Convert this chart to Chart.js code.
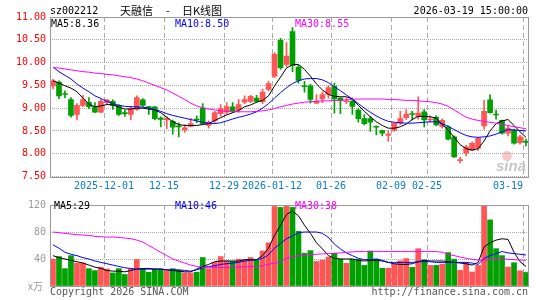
<!DOCTYPE html>
<html>
<head>
<meta charset="utf-8">
<script src="https://cdn.jsdelivr.net/npm/chart.js@4/dist/chart.umd.min.js"></script>
<style>
html, body { margin: 0; padding: 0; background: #fff; width: 545px; height: 300px; overflow: hidden; }
#kline { position: absolute; left: 0; top: 0; }
#volume { position: absolute; left: 0; top: 195px; }
</style>
</head>
<body>
<canvas id="kline" width="545" height="196"></canvas>
<canvas id="volume" width="545" height="105"></canvas>
<script>
// ── Data ──────────────────────────────────────────────────────────────
const dates = [
    '2025-11-18','2025-11-19','2025-11-20','2025-11-21','2025-11-24','2025-11-25','2025-11-26','2025-11-27','2025-11-28',
    '2025-12-01','2025-12-02','2025-12-03','2025-12-04','2025-12-05','2025-12-08','2025-12-09','2025-12-10','2025-12-11','2025-12-12',
    '2025-12-15','2025-12-16','2025-12-17','2025-12-18','2025-12-19','2025-12-22','2025-12-23','2025-12-24','2025-12-25','2025-12-26',
    '2025-12-29','2025-12-30','2025-12-31',
    '2026-01-05','2026-01-06','2026-01-07','2026-01-08','2026-01-09','2026-01-12','2026-01-13','2026-01-14','2026-01-15','2026-01-16',
    '2026-01-19','2026-01-20','2026-01-21','2026-01-22','2026-01-23','2026-01-26','2026-01-27','2026-01-28','2026-01-29','2026-01-30',
    '2026-02-02','2026-02-03','2026-02-04','2026-02-05','2026-02-06','2026-02-09','2026-02-10','2026-02-11','2026-02-12','2026-02-13',
    '2026-02-24','2026-02-25','2026-02-26','2026-02-27',
    '2026-03-02','2026-03-03','2026-03-04','2026-03-05','2026-03-06','2026-03-09','2026-03-10','2026-03-11','2026-03-12','2026-03-13',
    '2026-03-16','2026-03-17','2026-03-18','2026-03-19'
];

const open = [
    9.49, 9.57, 9.32, 9.19, 8.86, 9.06, 9.13, 9.03, 8.91, 9.12,
    9.15, 9.06, 8.90, 8.86, 8.97, 9.18, 9.03, 9.03, 8.78, 8.74,
    8.71, 8.61, 8.52, 8.60, 8.76, 9.00, 8.62, 8.72, 8.88, 8.91,
    9.03, 8.96, 9.13, 9.15, 9.22, 9.14, 9.41, 9.70, 10.49, 9.96,
    10.68, 9.90, 9.49, 9.49, 9.11, 9.20, 9.30, 9.48, 9.22, 9.14,
    9.15, 8.96, 8.77, 8.77, 8.59, 8.51, 8.40, 8.51, 8.67, 8.79,
    8.87, 8.82, 8.92, 8.74, 8.80, 8.60, 8.59, 8.37, 7.85, 8.02,
    8.08, 8.12, 8.61, 9.18, 8.86, 8.73, 8.45, 8.52, 8.24, 8.26
];
const high = [
    9.63, 9.60, 9.38, 9.23, 9.10, 9.28, 9.23, 9.12, 9.19, 9.19,
    9.18, 9.08, 8.95, 9.04, 9.27, 9.21, 9.04, 9.04, 8.81, 8.81,
    8.74, 8.68, 8.64, 8.77, 8.83, 9.10, 8.72, 8.93, 9.08, 9.12,
    9.12, 9.19, 9.27, 9.28, 9.28, 9.42, 9.59, 10.22, 10.53, 10.44,
    10.77, 9.94, 9.59, 9.52, 9.30, 9.36, 9.49, 9.55, 9.23, 9.22,
    9.22, 8.99, 8.86, 8.82, 8.61, 8.52, 8.50, 8.67, 8.93, 8.97,
    8.93, 9.25, 8.97, 8.83, 8.83, 8.76, 8.61, 8.39, 7.92, 8.19,
    8.26, 8.36, 9.17, 9.29, 8.96, 8.74, 8.60, 8.54, 8.41, 8.32
];
const low = [
    9.42, 9.21, 9.23, 8.80, 8.74, 9.03, 8.99, 8.90, 8.90, 9.10,
    8.97, 8.84, 8.82, 8.74, 8.95, 9.03, 8.86, 8.74, 8.59, 8.55,
    8.43, 8.37, 8.47, 8.59, 8.68, 8.64, 8.56, 8.68, 8.82, 8.86,
    8.90, 8.91, 9.10, 9.12, 9.13, 9.10, 9.38, 9.67, 9.85, 9.91,
    9.80, 9.55, 9.35, 9.11, 9.10, 9.12, 9.22, 8.89, 8.88, 9.10,
    8.86, 8.69, 8.63, 8.49, 8.41, 8.39, 8.27, 8.49, 8.64, 8.75,
    8.74, 8.76, 8.59, 8.69, 8.61, 8.56, 8.30, 7.92, 7.80, 7.95,
    8.07, 8.07, 8.54, 8.89, 8.76, 8.43, 8.39, 8.21, 8.21, 8.17
];
const close = [
    9.60, 9.27, 9.30, 8.84, 9.06, 9.19, 9.03, 8.91, 9.15, 9.18,
    9.06, 8.86, 8.88, 8.99, 9.23, 9.06, 9.01, 8.77, 8.75, 8.77,
    8.58, 8.59, 8.57, 8.66, 8.74, 8.66, 8.69, 8.90, 8.99, 9.03,
    8.94, 9.08, 9.19, 9.26, 9.15, 9.35, 9.54, 10.18, 9.89, 10.14,
    9.94, 9.61, 9.47, 9.19, 9.15, 9.30, 9.45, 9.20, 9.17, 9.16,
    9.04, 8.77, 8.66, 8.69, 8.58, 8.45, 8.43, 8.67, 8.77, 8.87,
    8.86, 8.89, 8.74, 8.76, 8.63, 8.73, 8.32, 7.93, 7.87, 8.15,
    8.23, 8.34, 8.93, 8.90, 8.85, 8.45, 8.56, 8.23, 8.37, 8.25
];

const ma5 = [
    9.60, 9.55, 9.49, 9.44, 9.36, 9.22, 9.09, 9.03, 9.05, 9.08,
    9.07, 9.02, 8.98, 8.98, 9.00, 9.00, 8.98, 8.96, 8.90, 8.80,
    8.70, 8.64, 8.62, 8.62, 8.62, 8.64, 8.66, 8.73, 8.79, 8.85,
    8.90, 8.95, 9.03, 9.07, 9.13, 9.17, 9.27, 9.49, 9.68, 9.88,
    9.95, 9.96, 9.85, 9.70, 9.53, 9.40, 9.30, 9.26, 9.25, 9.25,
    9.20, 9.06, 8.93, 8.81, 8.70, 8.62, 8.56, 8.56, 8.59, 8.65,
    8.75, 8.82, 8.82, 8.81, 8.78, 8.64, 8.52, 8.36, 8.20, 8.11,
    8.08, 8.11, 8.28, 8.50, 8.66, 8.72, 8.75, 8.62, 8.48, 8.36
];
const ma10 = [
    9.90, 9.80, 9.72, 9.64, 9.53, 9.44, 9.36, 9.27, 9.21, 9.15,
    9.10, 9.06, 9.04, 9.03, 9.03, 9.02, 9.00, 8.97, 8.93, 8.88,
    8.84, 8.81, 8.78, 8.75, 8.72, 8.69, 8.67, 8.66, 8.68, 8.72,
    8.76, 8.80, 8.83, 8.87, 8.92, 9.00, 9.10, 9.22, 9.34, 9.45,
    9.54, 9.60, 9.64, 9.65, 9.65, 9.62, 9.56, 9.47, 9.38, 9.29,
    9.20, 9.10, 9.00, 8.91, 8.83, 8.76, 8.71, 8.69, 8.68, 8.67,
    8.67, 8.68, 8.69, 8.70, 8.70, 8.66, 8.60, 8.53, 8.46, 8.40,
    8.37, 8.36, 8.37, 8.39, 8.43, 8.48, 8.53, 8.52, 8.51, 8.50
];
const ma30 = [
    9.89, 9.88, 9.86, 9.84, 9.82, 9.80, 9.79, 9.77, 9.76, 9.74,
    9.73, 9.71, 9.69, 9.67, 9.64, 9.60, 9.55, 9.50, 9.45, 9.40,
    9.33, 9.26, 9.19, 9.11, 9.05, 9.01, 8.98, 8.96, 8.94, 8.93,
    8.92, 8.92, 8.92, 8.92, 8.93, 8.94, 8.96, 8.99, 9.03, 9.06,
    9.09, 9.11, 9.13, 9.14, 9.15, 9.16, 9.16, 9.17, 9.17, 9.18,
    9.19, 9.20, 9.20, 9.20, 9.20, 9.20, 9.19, 9.19, 9.18, 9.17,
    9.17, 9.16, 9.15, 9.14, 9.12, 9.09, 9.04, 8.96, 8.88, 8.80,
    8.76, 8.73, 8.71, 8.69, 8.67, 8.64, 8.62, 8.59, 8.57, 8.55
];

// volume, 万手
const vol = [
    39.8, 43.6, 25.7, 45.0, 34.0, 34.0, 25.7, 22.8, 27.6, 25.2,
    19.4, 25.7, 17.0, 25.2, 39.3, 25.7, 20.4, 25.2, 25.2, 22.8,
    25.7, 23.3, 19.4, 19.4, 20.4, 42.2, 25.7, 34.9, 43.6, 37.3,
    36.4, 39.8, 38.8, 42.2, 38.8, 51.9, 64.0, 117.8, 116.4, 119.8,
    116.4, 81.0, 48.5, 52.4, 36.4, 38.3, 42.7, 48.5, 39.8, 33.5,
    39.8, 39.8, 30.5, 51.9, 39.8, 26.2, 26.2, 32.5, 37.3, 40.7,
    27.6, 55.3, 38.8, 30.5, 30.5, 32.5, 49.5, 39.8, 23.3, 33.9,
    20.8, 30.5, 125.0, 98.0, 55.3, 45.0, 28.0, 34.5, 22.5, 20.0
];
const volMa5 = [
    45, 42, 40, 38, 36, 34, 31, 28, 26, 23,
    22, 22, 21, 23, 25, 26, 26, 25, 25, 24,
    23, 22, 21, 21, 25, 29, 32, 36, 37, 37,
    37, 37, 39, 39, 39, 45, 56, 75, 90, 106,
    111, 104, 90, 78, 64, 55, 45, 41, 40, 40,
    40, 38, 37, 38, 38, 37, 35, 33, 32, 32,
    33, 36, 38, 37, 37, 37, 36, 35, 34, 33,
    31, 35, 58, 64, 68, 70, 69, 50, 36, 29
];
const volMa10 = [
    61, 56, 50, 47, 45, 42, 40, 37, 35, 33,
    31, 29, 27, 26, 25, 25, 25, 25, 25, 24,
    24, 24, 23, 22, 24, 27, 29, 30, 32, 33,
    34, 35, 37, 38, 39, 41, 46, 56, 63, 70,
    74, 79, 80, 80, 80, 78, 72, 62, 55, 49,
    45, 41, 39, 39, 40, 38, 35, 35, 35, 35,
    35, 36, 36, 36, 35, 35, 35, 35, 35, 35,
    34, 32, 41, 45, 48, 51, 49, 48, 47, 46
];
const volMa30 = [
    80, 79, 78, 77, 76, 75.5, 75, 73.5, 73, 72.5,
    72.5, 72, 71, 70, 68, 65, 60, 55, 50, 45,
    40, 37, 34, 31, 29, 28, 27.6, 27.6, 27.6, 27.6,
    27.6, 28, 28.5, 28.8, 29, 30, 32, 34, 36, 41,
    43, 45, 46, 46.5, 47, 47.5, 48, 48.5, 49, 50,
    50.5, 51, 51, 51, 51, 51, 51, 51, 51, 51,
    51, 51, 51, 51, 51, 50, 47, 45, 43, 41,
    39.5, 38.5, 38.5, 39, 40, 40.5, 39.5, 39, 38.5, 38
];

const tickDates = ['2025-12-01','2025-12-15','2025-12-29','2026-01-12','2026-01-26','2026-02-09','2026-02-25','2026-03-19'];
const tickTexts = ['2025-12-01','12-15','12-29','2026-01-12','01-26','02-09','02-25','03-19'];

// ── Style ─────────────────────────────────────────────────────────────
const UP   = '#ff5555';
const DOWN = '#00a000';
const MONO = '"DejaVu Sans Mono", "Liberation Mono", monospace';
const isUp = i => close[i] >= open[i];
const last = a => a[a.length - 1];

// ── Plot frame: dashed date lines + border ───────────────────────────
const frame = {
    id: 'frame',
    beforeDatasetsDraw(chart) {
        const { ctx, chartArea: a, scales: { x } } = chart;
        const half = x.width / dates.length / 2;
        ctx.save();
        ctx.strokeStyle = '#aaaaaa';
        ctx.lineWidth = 1;
        ctx.setLineDash([5, 3]);
        tickDates.forEach(d => {
            const px = Math.round(x.getPixelForValue(dates.indexOf(d)) - half) + 0.5;
            ctx.beginPath();
            ctx.moveTo(px, a.top);
            ctx.lineTo(px, a.bottom);
            ctx.stroke();
        });
        ctx.restore();
    },
    afterDatasetsDraw(chart) {
        const { ctx, chartArea: a } = chart;
        ctx.save();
        ctx.strokeStyle = '#999999';
        ctx.lineWidth = 1;
        ctx.strokeRect(Math.round(a.left) + 0.5, Math.round(a.top) + 0.5,
                       Math.round(a.right) - Math.round(a.left) - 1, Math.round(a.bottom) - Math.round(a.top));
        ctx.restore();
    }
};

// ── Texts of the price panel ──────────────────────────────────────────
const klineText = {
    id: 'klineText',
    beforeDatasetsDraw(chart) {
        // sina watermark
        const { ctx } = chart;
        ctx.save();
        ctx.fillStyle = 'rgba(240,130,130,0.45)';
        ctx.beginPath();
        ctx.arc(507, 156, 5, 0, Math.PI * 2);
        ctx.fill();
        ctx.fillStyle = '#c8c8c8';
        ctx.font = 'italic bold 15px "Liberation Sans", sans-serif';
        ctx.textBaseline = 'alphabetic';
        ctx.fillText('sina', 496, 171);
        ctx.restore();
    },
    afterDraw(chart) {
        const { ctx, chartArea: a, scales: { x } } = chart;
        const half = x.width / dates.length / 2;
        ctx.save();
        ctx.textBaseline = 'middle';
        ctx.font = '10px ' + MONO;
        ctx.fillStyle = '#000';
        ctx.textAlign = 'left';
        ctx.fillText('sz002212', 50, 11);
        ctx.textAlign = 'right';
        ctx.fillText(last(dates) + ' 15:00:00', 528, 11);

        ctx.font = '11px "Noto Sans CJK SC", sans-serif';
        ctx.textAlign = 'left';
        ctx.fillText('天融信', 120, 11);
        ctx.fillText('-', 166, 11);
        ctx.fillText('日K线图', 182, 11);

        ctx.font = '10px ' + MONO;
        ctx.fillStyle = '#000000';
        ctx.fillText('MA5:' + last(ma5).toFixed(2), 51, 24);
        ctx.fillStyle = '#0000ff';
        ctx.fillText('MA10:' + last(ma10).toFixed(2), 175, 24);
        ctx.fillStyle = '#ff00ff';
        ctx.fillText('MA30:' + last(ma30).toFixed(2), 295, 24);

        // date labels under the price panel
        ctx.fillStyle = '#0a7cc8';
        tickDates.forEach((d, k) => {
            const px = Math.round(x.getPixelForValue(dates.indexOf(d)) - half);
            const w = ctx.measureText(tickTexts[k]).width;
            if (px + w / 2 > a.right - 2) {
                ctx.textAlign = 'right';
                ctx.fillText(tickTexts[k], px, 186);
            } else {
                ctx.textAlign = 'center';
                ctx.fillText(tickTexts[k], px, 186);
            }
        });
        ctx.restore();
    }
};

// ── Texts of the volume panel ─────────────────────────────────────────
const volumeText = {
    id: 'volumeText',
    afterDraw(chart) {
        const { ctx } = chart;
        ctx.save();
        ctx.textBaseline = 'middle';
        ctx.font = '10px ' + MONO;
        ctx.textAlign = 'left';
        ctx.fillStyle = '#000000';
        ctx.fillText('MA5:' + Math.round(last(volMa5)), 54, 11);
        ctx.fillStyle = '#0000ff';
        ctx.fillText('MA10:' + Math.round(last(volMa10)), 175, 11);
        ctx.fillStyle = '#ff00ff';
        ctx.fillText('MA30:' + Math.round(last(volMa30)), 295, 11);

        ctx.fillStyle = '#999999';
        ctx.font = '10px "Noto Sans CJK SC", sans-serif';
        ctx.fillText('x万', 28, 91);

        ctx.font = '10px ' + MONO;
        ctx.fillStyle = '#555555';
        ctx.fillText('Copyright 2026 SINA.COM', 50, 97);
        ctx.textAlign = 'right';
        ctx.fillText('http://finance.sina.com.cn', 528, 97);
        ctx.restore();
    }
};

const maLine = (data, color) => ({
    type: 'line', data, borderColor: color, borderWidth: 1,
    pointRadius: 0, tension: 0, fill: false, order: 0
});

// ── Price chart ───────────────────────────────────────────────────────
new Chart(document.getElementById('kline'), {
    type: 'bar',
    data: {
        labels: dates,
        datasets: [
            maLine(ma30, '#ff00ff'),
            maLine(ma10, '#0000ff'),
            maLine(ma5,  '#000000'),
            {   // wicks
                data: low.map((l, i) => [l, high[i]]),
                backgroundColor: c => isUp(c.dataIndex) ? UP : DOWN,
                barThickness: 1, grouped: false, borderWidth: 0, order: 2
            },
            {   // bodies
                data: open.map((o, i) => [o, close[i]]),
                backgroundColor: c => isUp(c.dataIndex) ? UP : DOWN,
                barThickness: 5, grouped: false, borderWidth: 0, minBarLength: 1, order: 1
            }
        ]
    },
    options: {
        responsive: false,
        animation: false,
        events: [],
        layout: { padding: { top: 17, right: 16, bottom: 19.5, left: 0 } },
        plugins: { legend: { display: false }, tooltip: { enabled: false } },
        scales: {
            x: { display: false, offset: true },
            y: {
                min: 7.5, max: 11,
                afterFit: s => { s.width = 50; },
                ticks: { stepSize: 0.5, padding: 4, color: '#ff0000', font: { family: MONO, size: 10 },
                         callback: v => v.toFixed(2) },
                grid: { color: '#a8a8a8', drawTicks: false },
                border: { display: false, dash: [1, 1] }
            }
        }
    },
    plugins: [frame, klineText]
});

// ── Volume chart ──────────────────────────────────────────────────────
new Chart(document.getElementById('volume'), {
    type: 'bar',
    data: {
        labels: dates,
        datasets: [
            maLine(volMa30, '#ff00ff'),
            maLine(volMa10, '#0000ff'),
            maLine(volMa5,  '#000000'),
            {
                data: vol,
                backgroundColor: c => isUp(c.dataIndex) ? UP : DOWN,
                barThickness: 5, borderWidth: 0, clip: 0, order: 1
            }
        ]
    },
    options: {
        responsive: false,
        animation: false,
        events: [],
        layout: { padding: { top: 7, right: 16, bottom: 14, left: 0 } },
        plugins: { legend: { display: false }, tooltip: { enabled: false } },
        scales: {
            x: { display: false, offset: true },
            y: {
                min: 0, max: 120,
                afterFit: s => { s.width = 50; },
                ticks: { stepSize: 40, padding: 4, color: '#999999', font: { family: MONO, size: 10 },
                         callback: v => v === 0 ? '' : v },
                grid: { color: '#a8a8a8', drawTicks: false },
                border: { display: false, dash: [1, 1] }
            }
        }
    },
    plugins: [frame, volumeText]
});
</script>
</body>
</html>
